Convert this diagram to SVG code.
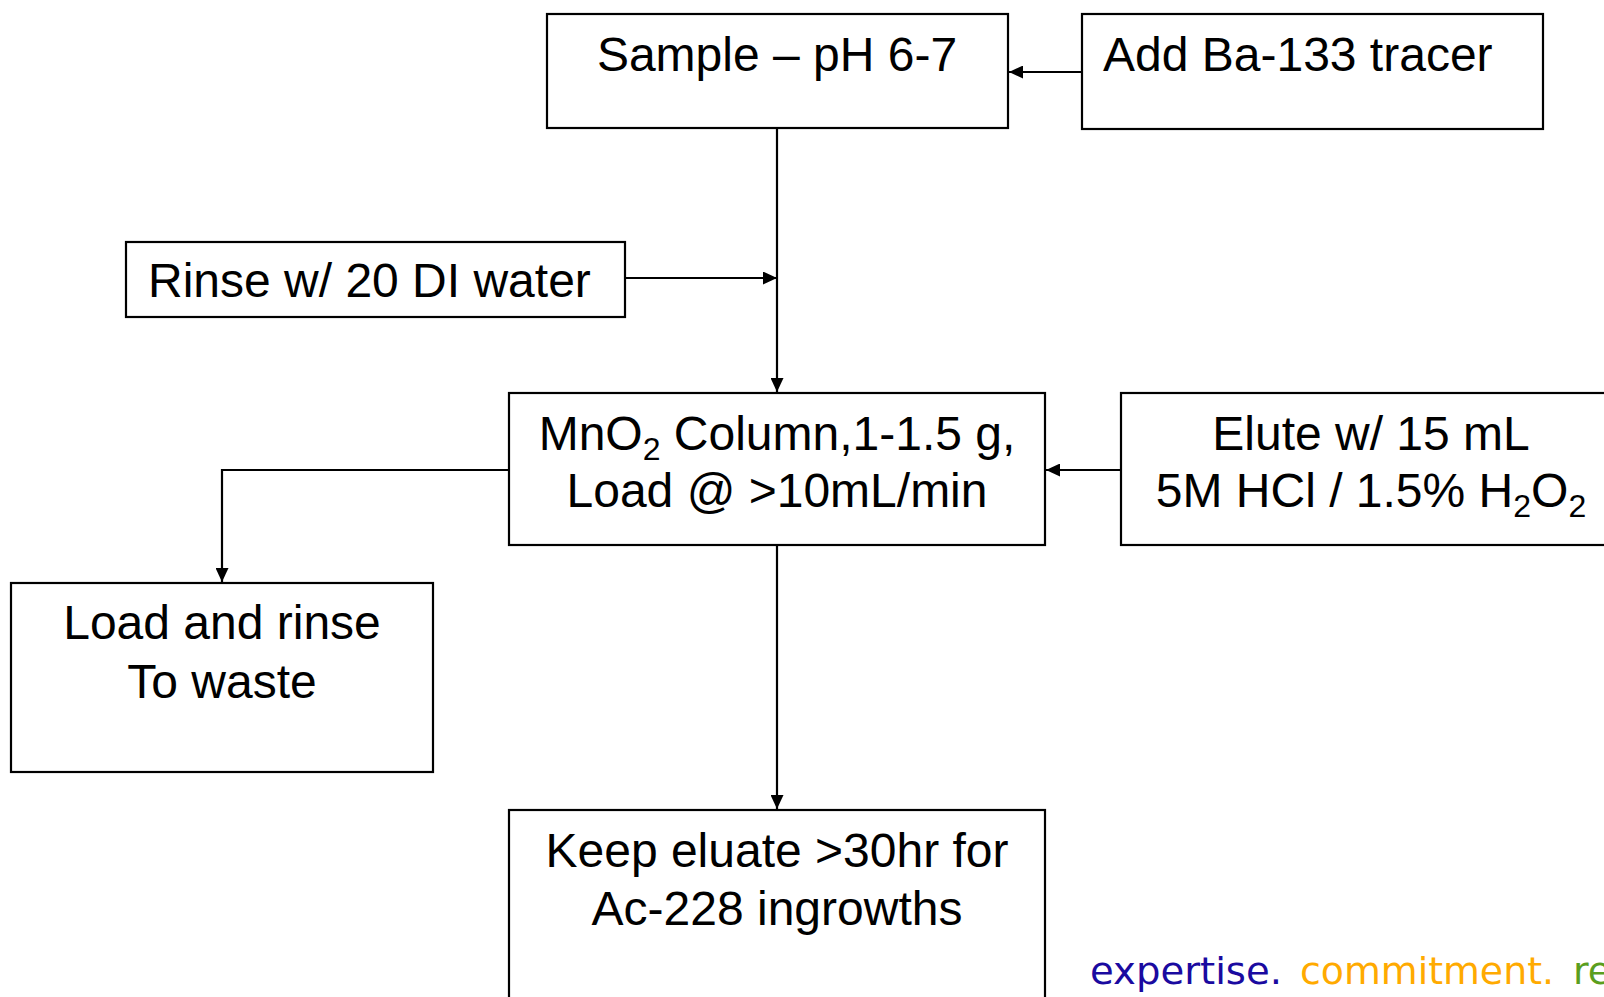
<svg xmlns="http://www.w3.org/2000/svg" width="1604" height="997" viewBox="0 0 1604 997">
<style>
.box{fill:#fff;stroke:#000;stroke-width:2.2}
.t{font-family:"Liberation Sans",Arial,sans-serif;font-size:48px;fill:#000}
.c{text-anchor:middle}
.sub{font-size:32px}
.con{fill:none;stroke:#000;stroke-width:2.2}
.f{font-family:"DejaVu Sans","Noto Sans",sans-serif;font-size:38px}
</style>
<defs>
<marker id="ah" viewBox="0 0 14 13" refX="14" refY="6.5" markerWidth="14" markerHeight="13" orient="auto" markerUnits="userSpaceOnUse">
<path d="M0,0 L14,6.5 L0,13 z" fill="#000"/>
</marker>
</defs>
<rect width="1604" height="997" fill="#fff"/>
<g id="connectors">
<path class="con" d="M1082,72 H1009" marker-end="url(#ah)"/>
<path class="con" d="M777,128 V392" marker-end="url(#ah)"/>
<path class="con" d="M625,278 H777" marker-end="url(#ah)"/>
<path class="con" d="M1121,470 H1046" marker-end="url(#ah)"/>
<path class="con" d="M509,470 H222 V582" marker-end="url(#ah)"/>
<path class="con" d="M777,545 V809" marker-end="url(#ah)"/>
</g>
<g id="sample">
<rect class="box" x="547" y="14" width="461" height="114"/>
<text class="t c" x="777" y="71">Sample – pH 6-7</text>
</g>
<g id="tracer">
<rect class="box" x="1082" y="14" width="461" height="115"/>
<text class="t" x="1103" y="71">Add Ba-133 tracer</text>
</g>
<g id="rinse">
<rect class="box" x="126" y="242" width="499" height="75"/>
<text class="t" x="148" y="297">Rinse w/ 20 DI water</text>
</g>
<g id="column">
<rect class="box" x="509" y="393" width="536" height="152"/>
<text class="t c" x="777" y="450">MnO<tspan class="sub" dy="10">2</tspan><tspan dy="-10"> Column,1-1.5 g,</tspan></text>
<text class="t c" x="777" y="507">Load @ &gt;10mL/min</text>
</g>
<g id="elute">
<rect class="box" x="1121" y="393" width="500" height="152"/>
<text class="t c" x="1371" y="450">Elute w/ 15 mL</text>
<text class="t c" x="1371" y="507">5M HCl / 1.5% H<tspan class="sub" dy="10">2</tspan><tspan dy="-10">O</tspan><tspan class="sub" dy="10">2</tspan></text>
</g>
<g id="waste">
<rect class="box" x="11" y="583" width="422" height="189"/>
<text class="t c" x="222" y="639">Load and rinse</text>
<text class="t c" x="222" y="698">To waste</text>
</g>
<g id="keep">
<rect class="box" x="509" y="810" width="536" height="200"/>
<text class="t c" x="777" y="867">Keep eluate &gt;30hr for</text>
<text class="t c" x="777" y="925">Ac-228 ingrowths</text>
</g>
<g id="footer">
<text class="f" x="1090" y="984" fill="#1a0aa0" textLength="192" lengthAdjust="spacingAndGlyphs">expertise.</text>
<text class="f" x="1300" y="984" fill="#ffaa00" textLength="254" lengthAdjust="spacingAndGlyphs">commitment.</text>
<text class="f" x="1573" y="984" fill="#5a9e1e">re</text>
</g>
</svg>
